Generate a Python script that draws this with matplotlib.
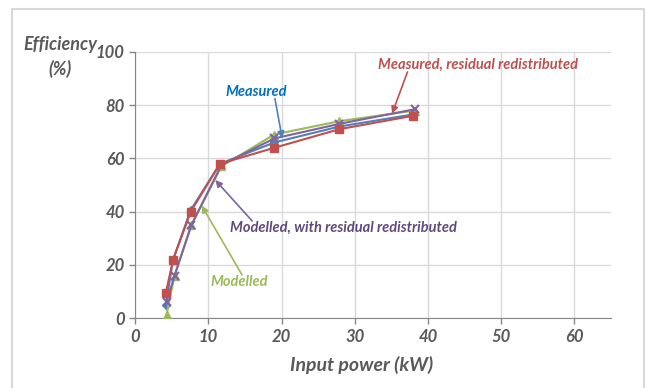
import matplotlib.pyplot as plt
from matplotlib.patches import Rectangle

# data
x_measured = [4.2, 5.2, 7.6, 11.6, 19.0, 27.9, 37.9]
x_modelled = [4.3, 5.4, 7.7, 11.8, 19.0, 27.9, 38.2]
eff_measured = [5.0, 22.0, 40.6, 58.0, 66.0, 72.0, 76.5]
eff_measured_redist = [9.4, 22.0, 40.0, 58.0, 64.0, 71.0, 76.0]
eff_modelled = [1.2, 16.0, 35.0, 57.0, 69.0, 74.0, 78.0]
eff_modelled_redist = [6.0, 16.0, 35.0, 57.6, 67.5, 73.0, 78.5]

x_ticks = [0, 10, 20, 30, 40, 50, 60]
y_ticks = [0, 20, 40, 60, 80, 100]

BLUE, RED, GREEN, PURPLE = "#4F81BD", "#C0504D", "#9BBB59", "#8064A2"
GREY = "#595959"
FONT = "Lato"

fig = plt.figure(figsize=(6.46, 3.88), dpi=100)
ax = fig.add_axes([0.209, 0.180, 0.737, 0.686])

ax.plot(x_measured, eff_measured, color=BLUE, marker="D", ms=4.5, lw=1.5, zorder=3)
ax.plot(x_modelled, eff_modelled, color=GREEN, marker="^", ms=6, lw=1.5, zorder=3)
ax.plot(x_modelled, eff_modelled_redist, color=PURPLE, marker="x", ms=6, mew=1.5, lw=1.5, zorder=4)
ax.plot(x_measured, eff_measured_redist, color=RED, marker="s", ms=6, lw=1.5, zorder=5)

ax.set_xlim(0, 65)
ax.set_ylim(0, 100)
ax.set_xticks(x_ticks)
ax.set_yticks(y_ticks)
ax.grid(True, color="#D9D9D9", lw=1)
ax.set_axisbelow(True)
for s in ["top", "right"]:
    ax.spines[s].set_visible(False)
for s in ["left", "bottom"]:
    ax.spines[s].set_color("#868686")
ax.tick_params(colors="#868686", length=4, width=1, labelcolor=GREY)
for lab in ax.get_xticklabels() + ax.get_yticklabels():
    lab.set_fontfamily(FONT)
    lab.set_fontstyle("italic")
    lab.set_fontweight("bold")
    lab.set_fontsize(12)

# annotations: label text plus a separate arrow
def note(text, text_xy, start, end, color, tcolor):
    ax.text(*text_xy, text, color=tcolor, fontsize=10.5, fontfamily=FONT,
            fontstyle="italic", fontweight="bold", ha="center", va="center", zorder=6)
    ax.annotate("", xy=end, xytext=start, zorder=6,
                arrowprops=dict(arrowstyle="-|>", color=color, lw=1.2,
                                mutation_scale=10, shrinkA=0, shrinkB=0))

note("Measured", (16.5, 85), (19.1, 82.5), (20.1, 67.5), BLUE, "#0070C0")
note("Measured, residual redistributed", (46.8, 95.2), (37.2, 92.5), (35.1, 76.9), RED, RED)
note("Modelled, with residual redistributed", (28.4, 34), (16.0, 36.5), (10.95, 51.9), PURPLE, "#604A7B")
note("Modelled", (14.2, 13.4), (14.6, 16.3), (9.1, 42.3), GREEN, GREEN)

fig.text(0.093, 0.853, "Efficiency\n(%)", ha="center", va="center", color=GREY,
         fontsize=13, fontfamily=FONT, fontstyle="italic", fontweight="bold",
         linespacing=1.45)
fig.text(0.56, 0.06, "Input power (kW)", ha="center", va="center", color=GREY,
         fontsize=14, fontfamily=FONT, fontstyle="italic", fontweight="bold")

# light frame around the chart area
fig.patches.append(Rectangle((12 / 646, -0.05), (644 - 12) / 646, 1.05 - 9 / 388,
                             transform=fig.transFigure, fill=False,
                             edgecolor="#D9D9D9", lw=1.5))

fig.savefig("out.png", dpi=100)
